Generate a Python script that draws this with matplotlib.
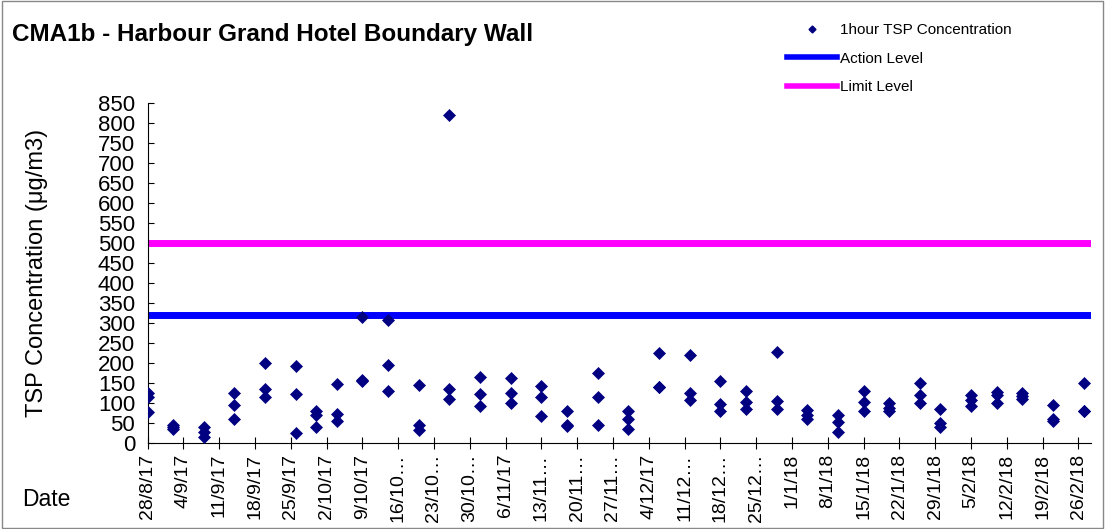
import matplotlib
matplotlib.use("Agg")
import matplotlib.pyplot as plt
import matplotlib.dates as mdates
from matplotlib.lines import Line2D
from matplotlib.patches import Rectangle
import numpy as np

plt.rcParams['font.family'] = ['Liberation Sans', 'DejaVu Sans']

# sampling dates (3 x 1-hour samples per day)
sample_dates = ["2017-08-28", "2017-09-02", "2017-09-08", "2017-09-14", "2017-09-20",
                "2017-09-26", "2017-09-30", "2017-10-04", "2017-10-09", "2017-10-14",
                "2017-10-20", "2017-10-26", "2017-11-01", "2017-11-07", "2017-11-13",
                "2017-11-18", "2017-11-24", "2017-11-30", "2017-12-06", "2017-12-12",
                "2017-12-18", "2017-12-23", "2017-12-29", "2018-01-04", "2018-01-10",
                "2018-01-15", "2018-01-20", "2018-01-26", "2018-01-30", "2018-02-05",
                "2018-02-10", "2018-02-15", "2018-02-21", "2018-02-27"]
tsp_1 = [127, 46, 42, 125, 200, 193, 82, 148, 315, 308, 145, 822, 165, 164, 143, 82, 177,
         81, 227, 221, 156, 132, 229, 83, 71, 131, 100, 150, 87, 121, 129, 125, 96, 150]
tsp_2 = [115, 40, 29, 97, 137, 123, 72, 73, 158, 195, 46, 137, 123, 125, 117, 45, 115,
         61, 142, 125, 98, 104, 107, 71, 54, 104, 89, 122, 50, 108, 122, 118, 61, 82]
tsp_3 = [79, 37, 17, 61, 115, 27, 42, 57, 157, 132, 33, 110, 93, 102, 68, 43, 47,
         37, 141, 108, 82, 87, 87, 62, 29, 82, 82, 100, 42, 93, 100, 112, 56, 81]

action_level = 320
limit_level = 500

tick_labels = ["28/8/17", "4/9/17", "11/9/17", "18/9/17", "25/9/17", "2/10/17", "9/10/17",
               "16/10…", "23/10…", "30/10…", "6/11/17", "13/11…", "20/11…", "27/11…",
               "4/12/17", "11/12…", "18/12…", "25/12…", "1/1/18", "8/1/18", "15/1/18",
               "22/1/18", "29/1/18", "5/2/18", "12/2/18", "19/2/18", "26/2/18"]

dates = mdates.datestr2num(sample_dates)
start = mdates.datestr2num("2017-08-28")
tick_pos = start + 7 * np.arange(len(tick_labels))

fig = plt.figure(figsize=(11.05, 5.29), dpi=100)
ax = fig.add_axes([0.1335, 0.162, 0.854, 0.6427])

navy = '#000080'
for vals in (tsp_1, tsp_2, tsp_3):
    ax.plot(dates, vals, linestyle='none', marker='D', ms=6.2, color=navy,
            markeredgecolor=navy, markeredgewidth=0.5, zorder=3)

ax.axhline(action_level, color='#0000FF', lw=5, zorder=2)
ax.axhline(limit_level, color='#FF00FF', lw=5, zorder=2)

ax.set_xlim(start, start + 184.5)
ax.set_ylim(0, 850)
ax.set_yticks(np.arange(0, 851, 50))
ax.tick_params(axis='y', direction='in', length=4, labelsize=16, pad=9)
ax.set_xticks(tick_pos)
ax.set_xticklabels(tick_labels, rotation=90)
ax.tick_params(axis='x', direction='inout', length=9, labelsize=14, pad=3)

for s in ('top', 'right'):
    ax.spines[s].set_visible(False)

ax.set_ylabel("TSP Concentration (μg/m3)", fontsize=17)
ax.yaxis.set_label_coords(-0.105, 0.5)

fig.text(12 / 1105, 1 - 35 / 529, "CMA1b - Harbour Grand Hotel Boundary Wall",
         fontsize=17.5, fontweight='bold', va='center', ha='left')
fig.text(22 / 1105, 1 - 500 / 529, "Date", fontsize=16.5, va='center', ha='left')

handles = [
    Line2D([], [], linestyle='none', marker='D', ms=3.5, color=navy),
    Line2D([], [], color='#0000FF', lw=4),
    Line2D([], [], color='#FF00FF', lw=4),
]
fig.legend(handles, ["1hour TSP Concentration", "Action Level", "Limit Level"],
           loc='upper left', bbox_to_anchor=(787 / 1105, 1 - 23 / 529),
           frameon=False, fontsize=11, borderpad=0, handlelength=3.3,
           handletextpad=0.2, labelspacing=0.95, borderaxespad=0)

fig.patches.append(Rectangle((0.002, 0.002), 0.996, 0.996, transform=fig.transFigure,
                             fill=False, edgecolor='#888888', lw=1))

fig.savefig("out.png", dpi=100)
